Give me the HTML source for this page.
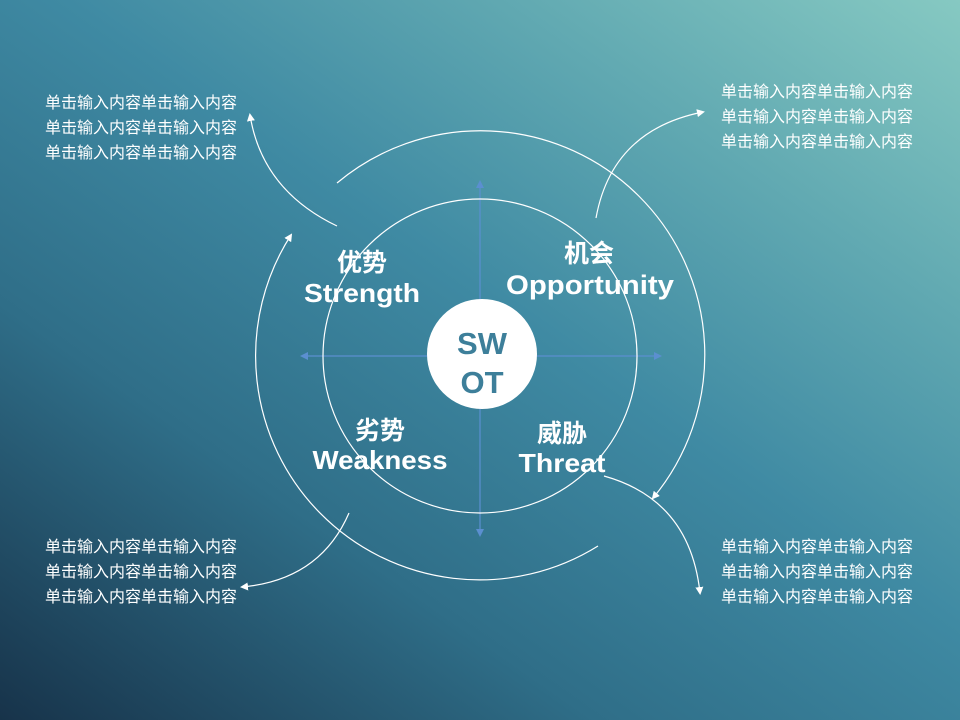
<!DOCTYPE html>
<html><head><meta charset="utf-8"><style>
html,body{margin:0;padding:0;width:960px;height:720px;overflow:hidden}
body{background:linear-gradient(35deg,#17334a 0%,#2f6e88 30%,#3f8aa3 55%,#62aab2 78%,#86c9c2 100%)}
svg{position:absolute;left:0;top:0}
.t{font-family:"Liberation Sans","Noto Sans CJK SC",sans-serif;font-size:16px;fill:#fff}
.b{font-family:"Liberation Sans","Noto Sans CJK SC",sans-serif;font-weight:bold;fill:#fff;text-anchor:middle}
</style></head><body>
<svg width="960" height="720" viewBox="0 0 960 720">
<defs>
<marker id="w" markerWidth="8" markerHeight="8" refX="6" refY="4" orient="auto" markerUnits="userSpaceOnUse"><path d="M0,0 L8,4 L0,8 Z" fill="#fff"/></marker>
<marker id="bl" markerWidth="8" markerHeight="8" refX="6" refY="4" orient="auto" markerUnits="userSpaceOnUse"><path d="M0,0 L8,4 L0,8 Z" fill="#5b8fd0"/></marker>
</defs>
<g stroke="#5b8fd0" stroke-width="1.2" fill="none">
<line x1="480" y1="356" x2="480" y2="182" marker-end="url(#bl)"/>
<line x1="480" y1="356" x2="480" y2="535" marker-end="url(#bl)"/>
<line x1="480" y1="356" x2="302" y2="356" marker-end="url(#bl)"/>
<line x1="480" y1="356" x2="660" y2="356" marker-end="url(#bl)"/>
</g>
<g stroke="#fff" stroke-width="1.2" fill="none">
<circle cx="480" cy="356" r="157"/>
<path d="M337,183 A224,224 0 0 1 653,498" marker-end="url(#w)"/>
<path d="M598,546 A224,224 0 0 1 291,235" marker-end="url(#w)"/>
<path d="M337,226 Q262,190 250,115" marker-end="url(#w)"/>
<path d="M596,218 Q612,130 703,112" marker-end="url(#w)"/>
<path d="M349,513 Q320,580 242,587" marker-end="url(#w)"/>
<path d="M604,476 Q690,500 700,593" marker-end="url(#w)"/>
</g>
<circle cx="482" cy="354" r="55" fill="#fff"/>
<text class="b" x="482" y="354" font-size="31" style="fill:#3d7f9a">SW</text>
<text class="b" x="482" y="393" font-size="31" style="fill:#3d7f9a">OT</text>
<text class="b" x="362" y="271" font-size="25">优势</text>
<text class="b" x="362" y="302" font-size="26" textLength="116" lengthAdjust="spacingAndGlyphs">Strength</text>
<text class="b" x="589" y="262" font-size="25">机会</text>
<text class="b" x="590" y="294" font-size="27" textLength="168" lengthAdjust="spacingAndGlyphs">Opportunity</text>
<text class="b" x="380" y="439" font-size="25">劣势</text>
<text class="b" x="380" y="469" font-size="26" textLength="135" lengthAdjust="spacingAndGlyphs">Weakness</text>
<text class="b" x="562" y="442" font-size="25">威胁</text>
<text class="b" x="562" y="472" font-size="26" textLength="87" lengthAdjust="spacingAndGlyphs">Threat</text>
<g class="t">
<text x="45" y="108" textLength="192">单击输入内容单击输入内容</text>
<text x="45" y="133" textLength="192">单击输入内容单击输入内容</text>
<text x="45" y="158" textLength="192">单击输入内容单击输入内容</text>
<text x="721" y="97" textLength="192">单击输入内容单击输入内容</text>
<text x="721" y="122" textLength="192">单击输入内容单击输入内容</text>
<text x="721" y="147" textLength="192">单击输入内容单击输入内容</text>
<text x="45" y="552" textLength="192">单击输入内容单击输入内容</text>
<text x="45" y="577" textLength="192">单击输入内容单击输入内容</text>
<text x="45" y="602" textLength="192">单击输入内容单击输入内容</text>
<text x="721" y="552" textLength="192">单击输入内容单击输入内容</text>
<text x="721" y="577" textLength="192">单击输入内容单击输入内容</text>
<text x="721" y="602" textLength="192">单击输入内容单击输入内容</text>
</g>
</svg>
</body></html>
